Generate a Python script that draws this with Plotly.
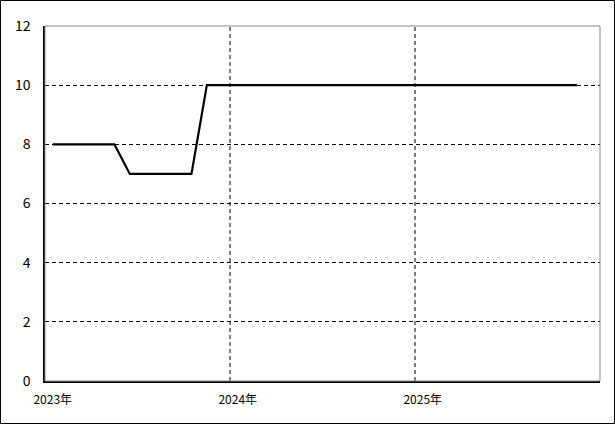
import plotly.graph_objects as go

# monthly data, 2023-01 .. 2025-11
months = list(range(35))
values = [8, 8, 8, 8, 8, 7, 7, 7, 7, 7] + [10] * 25
year_ticks = [0, 12, 24]
year_labels = ["2023年", "2024年", "2025年"]
year_bounds = [11.5, 23.5]

W, H = 615, 424
L, R, T, B = 45, 15, 26, 43
pw, ph = W - L - R, H - T - B

fig = go.Figure()
fig.add_trace(go.Scatter(x=months, y=values, mode="lines",
                         line=dict(color="black", width=2.2), hoverinfo="skip"))

shapes = []
for xb in year_bounds:
    shapes.append(dict(type="line", xref="x", yref="paper", x0=xb, x1=xb, y0=0, y1=1,
                       line=dict(color="black", width=1, dash="4px,3px"), layer="below"))
# top/right gray border
shapes.append(dict(type="rect", xref="paper", yref="paper", x0=0, x1=1, y0=0, y1=1,
                   line=dict(color="#888888", width=1), layer="above"))
# outer frame
shapes.append(dict(type="rect", xref="paper", yref="paper",
                   x0=-(L - 0.5) / pw, x1=1 + (R - 0.5) / pw,
                   y0=-(B - 0.5) / ph, y1=1 + (T - 0.5) / ph,
                   line=dict(color="black", width=1), layer="above"))

fig.update_layout(
    width=W, height=H, margin=dict(l=L, r=R, t=T, b=B, autoexpand=False),
    paper_bgcolor="white", plot_bgcolor="white", showlegend=False,
    font=dict(family="Noto Sans CJK JP, DejaVu Sans, sans-serif", color="black", size=12),
    shapes=shapes,
    xaxis=dict(range=[-0.5, 35.5], tickvals=year_ticks, ticktext=year_labels,
               showgrid=False, zeroline=False, showline=True, linecolor="black", linewidth=1.5,
               ticks="", ticklabelstandoff=7, tickfont=dict(size=12), automargin=False),
    yaxis=dict(range=[0, 12], tickvals=[0, 2, 4, 6, 8, 10, 12], showgrid=True,
               gridcolor="black", griddash="4px,3px", gridwidth=1, zeroline=False,
               showline=True, linecolor="black", linewidth=1.5, ticks="",
               ticklabelstandoff=10, tickfont=dict(size=14), automargin=False),
)
fig.write_html("out.html", config={"displayModeBar": False},
               post_script="document.body.style.margin='0';")
